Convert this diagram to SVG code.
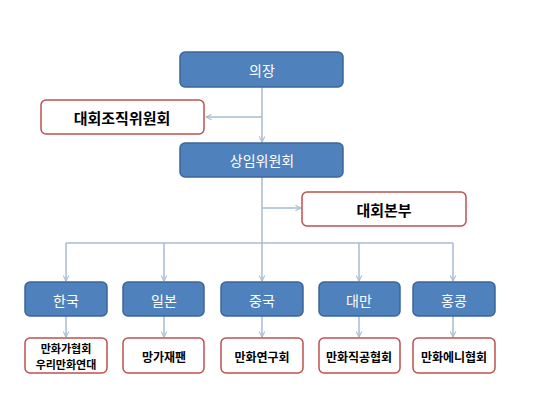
<svg xmlns="http://www.w3.org/2000/svg" width="555" height="416" viewBox="0 0 555 416">
<defs>
<style>
.b{fill:#4F81BD;stroke:#3B6699;stroke-width:1.5}
.r{fill:#fff;stroke:#C0504D;stroke-width:1.5}
.bt{fill:#fff;font-family:"Noto Sans CJK KR","Noto Sans",sans-serif;font-size:14px;text-anchor:middle;dominant-baseline:central}
.rt{fill:#000;font-family:"Noto Sans CJK KR","Noto Sans",sans-serif;font-weight:bold;font-size:15px;text-anchor:middle;dominant-baseline:central}
.st{font-size:12px}
.sm{font-size:11px}
.c{fill:none;stroke:#A9BCD3;stroke-width:1.5}
</style>
<marker id="a" viewBox="0 0 10 10" refX="9" refY="5" markerWidth="7" markerHeight="7" orient="auto" markerUnits="userSpaceOnUse">
<path d="M1,1 L9,5 L1,9" fill="none" stroke="#A9BCD3" stroke-width="1.5"/>
</marker>
</defs>
<rect width="555" height="416" fill="#fff"/>
<g id="connectors">
<path class="c" d="M262,87 V142" marker-end="url(#a)"/>
<path class="c" d="M262,117 H206" marker-end="url(#a)"/>
<path class="c" d="M262,177 V281" marker-end="url(#a)"/>
<path class="c" d="M262,208 H301" marker-end="url(#a)"/>
<path class="c" d="M66,243 H453"/>
<path class="c" d="M66,243 V281" marker-end="url(#a)"/>
<path class="c" d="M164,243 V281" marker-end="url(#a)"/>
<path class="c" d="M359,243 V281" marker-end="url(#a)"/>
<path class="c" d="M453,243 V281" marker-end="url(#a)"/>
<path class="c" d="M66,316 V337" marker-end="url(#a)"/>
<path class="c" d="M164,316 V337" marker-end="url(#a)"/>
<path class="c" d="M262,316 V337" marker-end="url(#a)"/>
<path class="c" d="M359,316 V337" marker-end="url(#a)"/>
<path class="c" d="M453,316 V337" marker-end="url(#a)"/>
</g>
<g id="n1"><rect class="b" x="180" y="52" width="163" height="35" rx="5"/><text class="bt" x="262" y="70">의장</text></g>
<g id="n2"><rect class="r" x="41" y="100" width="163" height="34" rx="5"/><text class="rt" x="122" y="117">대회조직위원회</text></g>
<g id="n3"><rect class="b" x="180" y="143" width="163" height="34" rx="5"/><text class="bt" x="262" y="160">상임위원회</text></g>
<g id="n4"><rect class="r" x="302" y="192" width="164" height="34" rx="5"/><text class="rt" x="384" y="209">대회본부</text></g>
<g id="k1"><rect class="b" x="25" y="282" width="82" height="34" rx="5"/><text class="bt" x="66" y="300">한국</text></g>
<g id="k2"><rect class="b" x="123" y="282" width="81" height="34" rx="5"/><text class="bt" x="164" y="300">일본</text></g>
<g id="k3"><rect class="b" x="221" y="282" width="82" height="34" rx="5"/><text class="bt" x="262" y="300">중국</text></g>
<g id="k4"><rect class="b" x="319" y="282" width="81" height="34" rx="5"/><text class="bt" x="359" y="300">대만</text></g>
<g id="k5"><rect class="b" x="413" y="282" width="82" height="34" rx="5"/><text class="bt" x="454" y="300">홍콩</text></g>
<g id="o1"><rect class="r" x="25" y="338" width="82" height="35" rx="5"/><text class="rt sm" x="66" y="347.5">만화가협회</text><text class="rt sm" x="66" y="363.5">우리만화연대</text></g>
<g id="o2"><rect class="r" x="123" y="338" width="81" height="35" rx="5"/><text class="rt st" x="164" y="356">망가재팬</text></g>
<g id="o3"><rect class="r" x="221" y="338" width="82" height="35" rx="5"/><text class="rt st" x="262" y="356">만화연구회</text></g>
<g id="o4"><rect class="r" x="319" y="338" width="81" height="35" rx="5"/><text class="rt st" x="359" y="356">만화직공협회</text></g>
<g id="o5"><rect class="r" x="413" y="338" width="82" height="35" rx="5"/><text class="rt st" x="454" y="356">만화에니협회</text></g>
</svg>
